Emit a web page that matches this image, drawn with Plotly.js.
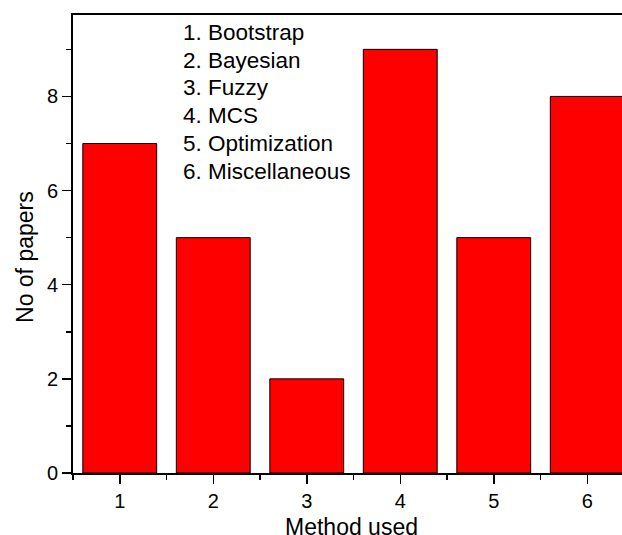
<!DOCTYPE html>
<html>
<head>
<meta charset="utf-8">
<script src="https://cdn.plot.ly/plotly-3.0.1.min.js"></script>
<style>
html,body{margin:0;padding:0;overflow:hidden;background:#fff;width:622px;height:535px;}
#chart{width:700px;height:535px;}
</style>
</head>
<body>
<div id="chart"></div>
<script>
const methods = [1, 2, 3, 4, 5, 6];
const papers = [7, 5, 2, 9, 5, 8];
const methodNames = ["1. Bootstrap", "2. Bayesian", "3. Fuzzy", "4. MCS", "5. Optimization", "6. Miscellaneous"];
const xMinorTicks = [0.5, 1.5, 2.5, 3.5, 4.5, 5.5, 6.5];
const yMinorTicks = [1, 3, 5, 7, 9];

const font = "Liberation Sans, Arial, sans-serif";
const plotL = 73, plotR = 634, plotT = 14.5, plotB = 473.5;
const px2x = p => (p - plotL) / (plotR - plotL);
const px2y = p => 1 - (p - plotT) / (plotB - plotT);

const annotations = methodNames.map((t, i) => ({
  xref: 'paper', yref: 'paper',
  x: px2x(181),
  y: px2y(32 + i * 27.8),
  xanchor: 'left', yanchor: 'middle',
  text: t, showarrow: false,
  font: {family: font, size: 22.5, color: '#000'}
}));

annotations.push({
  xref: 'paper', yref: 'paper',
  x: px2x(25), y: px2y(257),
  xanchor: 'center', yanchor: 'middle',
  textangle: -90,
  text: 'No of papers', showarrow: false,
  font: {family: font, size: 23, color: '#000'}
});

annotations.push({
  xref: 'paper', yref: 'paper',
  x: px2x(351), y: px2y(528),
  xanchor: 'center', yanchor: 'middle',
  text: 'Method used', showarrow: false,
  font: {family: font, size: 23, color: '#000'}
});

const data = [{
  type: 'bar',
  x: methods,
  y: papers,
  width: 0.79,
  marker: {color: '#ff0000', line: {color: '#000', width: 1}}
}];

const layout = {
  width: 700, height: 535,
  margin: {l: plotL, r: 700 - plotR, t: plotT, b: 535 - plotB},
  paper_bgcolor: '#fff', plot_bgcolor: '#fff',
  showlegend: false,
  font: {family: font, size: 20, color: '#000'},
  xaxis: {
    range: [0.5, 6.5],
    tickvals: methods,
    ticktext: methods.map(String),
    ticks: 'outside', ticklen: 9, tickwidth: 1.5, tickcolor: '#000',
    minor: {tickmode: 'array', tickvals: xMinorTicks, ticks: 'outside', ticklen: 5, tickwidth: 1.5, tickcolor: '#000', showgrid: false},
    showline: true, linewidth: 2, linecolor: '#000', mirror: true,
    showgrid: false, zeroline: false,
    tickfont: {family: font, size: 20}
  },
  yaxis: {
    range: [0, 9.73],
    tickvals: [0, 2, 4, 6, 8],
    ticks: 'outside', ticklen: 9, tickwidth: 1.5, tickcolor: '#000',
    minor: {tickmode: 'array', tickvals: yMinorTicks, ticks: 'outside', ticklen: 5, tickwidth: 1.5, tickcolor: '#000', showgrid: false},
    showline: true, linewidth: 2, linecolor: '#000', mirror: true,
    showgrid: false, zeroline: false,
    tickfont: {family: font, size: 20}
  },
  annotations: annotations
};

Plotly.newPlot('chart', data, layout, {displayModeBar: false, staticPlot: true});
</script>
</body>
</html>
